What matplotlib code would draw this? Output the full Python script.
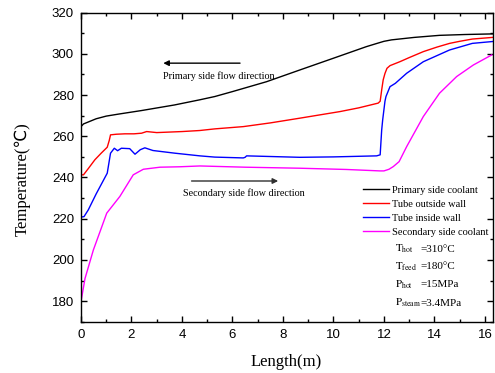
import matplotlib
matplotlib.use("Agg")
import matplotlib.pyplot as plt
from matplotlib.ticker import MultipleLocator

# ---- data ----
x_primary = [0, 0.1, 0.3, 0.6, 1.0, 1.5, 2.4, 3.7, 4.7, 5.3, 6.0, 7.35, 8.67, 10.0,
             11.3, 11.7, 12.0, 12.3, 12.6, 13.2, 14.2, 15.2, 16.3]
y_primary = [264.7, 266, 267, 268.5, 269.8, 270.8, 272.5, 275.2, 277.7, 279.3, 281.7,
             286.5, 292.2, 297.9, 303.5, 305, 306.1, 306.8, 307.2, 308, 309, 309.4, 309.7]

x_outside = [0, 0.1, 0.3, 0.55, 0.8, 1.04, 1.12, 1.17, 1.4, 1.74, 2.1, 2.4, 2.6, 3.0,
             4.0, 4.7, 5.3, 6.43, 7.5, 8.67, 10.26, 11.0, 11.77, 11.85, 11.91, 11.97,
             12.04, 12.12, 12.24, 12.63, 13.0, 13.56, 14.1, 14.6, 15.0, 15.5, 16.3]
y_outside = [241.3, 241.3, 244.5, 248.6, 251.8, 254.7, 258, 260.7, 261, 261.2, 261.2,
             261.5, 262.3, 261.8, 262.3, 262.8, 263.6, 264.7, 266.5, 268.8, 272, 273.8,
             276.1, 277, 282.5, 287.4, 290.5, 293, 294.3, 296.2, 298.2, 301.1, 303.3,
             305.1, 306.1, 307.2, 308]

x_inside = [0, 0.12, 0.29, 0.6, 1.04, 1.17, 1.32, 1.45, 1.6, 1.93, 2.14, 2.35, 2.53,
            2.85, 3.72, 4.71, 5.3, 6.43, 6.5, 6.56, 8.67, 10.0, 11.71, 11.85, 11.91,
            11.95, 12.04, 12.08, 12.24, 12.45, 12.9, 13.56, 14.6, 15.5, 16.3]
y_inside = [220.8, 221, 224.3, 232, 242.1, 251.8, 254.2, 253, 254.2, 254, 251.3,
            253.5, 254.4, 253.1, 251.8, 250.5, 249.9, 249.5, 249.8, 250.5, 249.8, 250,
            250.5, 251, 263, 268, 277, 279.3, 284.1, 285.7, 290.6, 296.2, 301.9, 305.1,
            306]

x_secondary = [0, 0.16, 0.49, 1.02, 1.54, 2.07, 2.47, 3.13, 3.9, 4.71, 6.5, 8.67,
               10.5, 11.84, 12.0, 12.2, 12.37, 12.6, 12.9, 13.56, 14.2, 14.88, 15.54,
               16.27]
y_secondary = [179.7, 191, 204.8, 222.7, 230.8, 241.3, 244, 245, 245.2, 245.6, 245,
               244.5, 243.9, 243.2, 243.2, 244, 245.3, 247.7, 255, 269.6, 280.9, 289,
               294.6, 299.5]

series_labels = ["Primary side coolant", "Tube outside wall",
                 "Tube inside wall", "Secondary side coolant"]
param_symbols = [r"$\mathrm{T_{hot}}$", r"$\mathrm{T_{feed}}$",
                 r"$\mathrm{P_{hot}}$", r"$\mathrm{P_{steam}}$"]
param_values = ["=310\u00b0C", "=180\u00b0C", "=15MPa", "=3.4MPa"]

plt.rcParams["mathtext.fontset"] = "stix"
serif = ["Liberation Serif", "DejaVu Serif"]
sans = ["Liberation Sans", "DejaVu Sans"]

fig = plt.figure(figsize=(4.95, 3.73), dpi=100)
ax = fig.add_axes([0.1636, 0.1375, 0.996 - 0.1636, 0.966 - 0.1375])

lw = 1.0
ax.plot(x_primary, y_primary, color="black", lw=lw, label=series_labels[0])
ax.plot(x_outside, y_outside, color="#ff0000", lw=lw, label=series_labels[1])
ax.plot(x_inside, y_inside, color="#0000ff", lw=lw, label=series_labels[2])
ax.plot(x_secondary, y_secondary, color="#ff00ff", lw=lw, label=series_labels[3])

ax.set_xlim(0, 16.32)
ax.set_ylim(170, 320)
ax.xaxis.set_major_locator(MultipleLocator(2))
ax.xaxis.set_minor_locator(MultipleLocator(1))
ax.yaxis.set_major_locator(MultipleLocator(20))
ax.yaxis.set_minor_locator(MultipleLocator(10))
ax.tick_params(which="both", direction="in", top=True, right=True, width=1)
ax.tick_params(which="major", length=4.5, labelsize=9.5)
ax.tick_params(axis="x", which="major", pad=5.5)
ax.tick_params(axis="y", which="major", pad=5)
ax.tick_params(which="minor", length=2.5)
for lab in ax.get_xticklabels() + ax.get_yticklabels():
    lab.set_family(sans)
for s in ax.spines.values():
    s.set_linewidth(1.0)

ax.set_xlabel("Length(m)", family=serif, fontsize=12, va="center", ha="center")
ax.xaxis.set_label_coords(0.499, -0.129)
ax.set_ylabel("Temperature(\u2103)", family=["Liberation Serif", "DejaVu Sans"],
              fontsize=12, va="center", ha="center")
ax.yaxis.set_label_coords(-0.141, 0.463)

leg = ax.legend(loc="upper left", bbox_to_anchor=(0.685, 0.441), frameon=False,
                prop={"family": serif, "size": 7.5}, handlelength=2.5,
                handletextpad=0.23, labelspacing=0.45, borderpad=0,
                borderaxespad=0)

ys = [0.235, 0.178, 0.119, 0.060]
for sym, val, yy in zip(param_symbols, param_values, ys):
    ax.text(0.762, yy, sym, transform=ax.transAxes, fontsize=7.8, va="center",
            ha="left")
    ax.text(0.823, yy, val, transform=ax.transAxes, fontsize=8, va="center",
            ha="left", family=serif)

ax.annotate("", xy=(3.26, 295.5), xytext=(6.3, 295.5),
            arrowprops=dict(arrowstyle="-|>", color="black", lw=1,
                            mutation_scale=8, shrinkA=0, shrinkB=0))
ax.text(3.24, 289.3, "Primary side flow direction", family=serif, fontsize=7.3,
        va="center", ha="left")
ax.annotate("", xy=(7.81, 238.3), xytext=(4.38, 238.3),
            arrowprops=dict(arrowstyle="-|>", color="#303030", lw=1,
                            mutation_scale=8, shrinkA=0, shrinkB=0))
ax.text(4.05, 232.6, "Secondary side flow direction", family=serif, fontsize=7.3,
        va="center", ha="left")

fig.savefig("out.png", dpi=100)
